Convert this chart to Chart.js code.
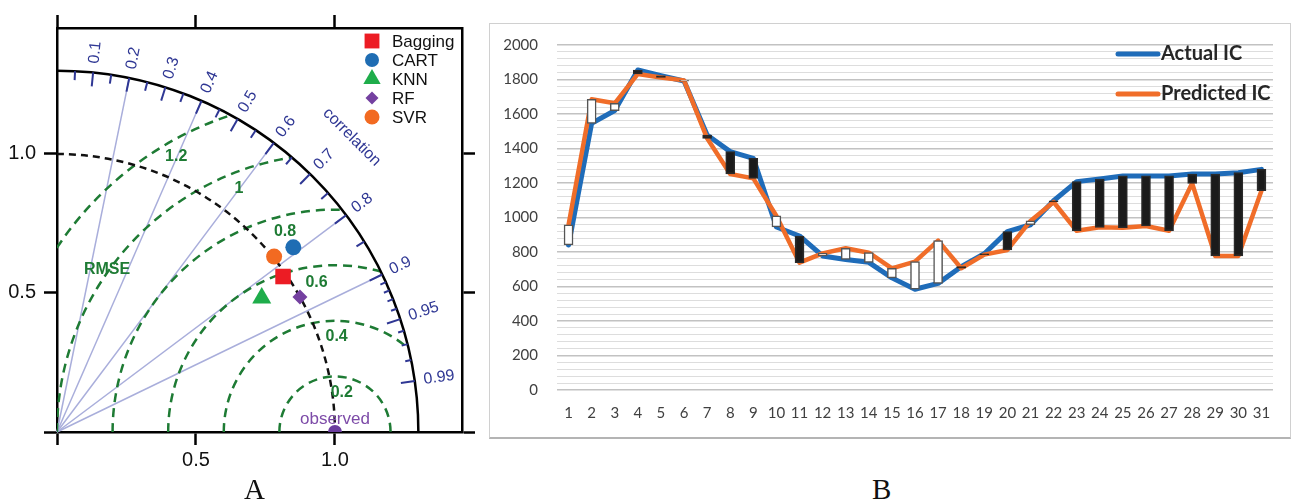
<!DOCTYPE html>
<html>
<head>
<meta charset="utf-8">
<script src="https://cdn.jsdelivr.net/npm/chart.js@4.4.1/dist/chart.umd.min.js"></script>
<style>
  html, body { margin: 0; padding: 0; background: #fff; }
  body { width: 1293px; height: 503px; position: relative; overflow: hidden; }
  #taylor { position: absolute; left: 0; top: 0; }
  #panelB { position: absolute; left: 489px; top: 23px; width: 800px; height: 413px;
            border: 1.5px solid #d0d0d0; border-bottom: 2px solid #b4b4b4; }
  #icChart { position: absolute; left: 490px; top: 22px; }
  .tag { position: absolute; font-family: "Liberation Serif", serif; font-size: 29px;
         line-height: 29px; color: #111; }
</style>
</head>
<body>
<canvas id="taylor" width="480" height="503"></canvas>
<div id="panelB"></div>
<canvas id="icChart" width="803" height="416"></canvas>
<div class="tag" style="left:244px; top:475px;">A</div>
<div class="tag" style="left:872px; top:475px;">B</div>

<script>
// --- Panel A data: Taylor diagram ---
const models = ['Bagging', 'CART', 'KNN', 'RF', 'SVR'];
const modelStd = [0.987, 1.079, 0.880, 1.000, 1.004];
const modelCorr = [0.824, 0.788, 0.837, 0.874, 0.778];
const observedStd = 1.0;
const sdMax = 1.3;
const axisTicks = [0, 0.5, 1.0];
const rmseLevels = [0.2, 0.4, 0.6, 0.8, 1.0, 1.2];
const rmseLabels = ['0.2', '0.4', '0.6', '0.8', '1', '1.2'];
const corrMajor = [0.1, 0.2, 0.3, 0.4, 0.5, 0.6, 0.7, 0.8, 0.9, 0.95, 0.99];
const corrLabels = ['0.1', '0.2', '0.3', '0.4', '0.5', '0.6', '0.7', '0.8', '0.9', '0.95', '0.99'];
const corrMinor = [0.05, 0.15, 0.25, 0.35, 0.45, 0.55, 0.65, 0.75, 0.85];
const corrFine = [0.91, 0.92, 0.93, 0.94, 0.96, 0.97, 0.98];
const corrRays = [0.2, 0.4, 0.6, 0.8, 0.9];

// --- Panel B data: actual vs predicted IC ---
const days = ['1','2','3','4','5','6','7','8','9','10','11','12','13','14','15','16',
              '17','18','19','20','21','22','23','24','25','26','27','28','29','30','31'];
const actualIC = [841, 1546, 1620, 1855, 1822, 1791, 1478, 1382, 1343, 945, 893, 777, 757, 740, 650, 584,
                  618, 715, 790, 918, 958, 1097, 1208, 1223, 1241, 1241, 1241, 1252, 1252, 1260, 1279];
const predictedIC = [957, 1685, 1662, 1832, 1812, 1795, 1459, 1252, 1227, 1009, 738, 792, 822, 796, 705, 744,
                     866, 706, 785, 812, 980, 1090, 923, 943, 941, 951, 923, 1198, 777, 777, 1155];

// styles (kept apart from the data)
const modelStyle = [
  { pointStyle: 'rect',     radius: 11,  color: '#ec1c24' },
  { pointStyle: 'circle',   radius: 8,   color: '#1f6db3' },
  { pointStyle: 'triangle', radius: 11,  color: '#1fad4b' },
  { pointStyle: 'rectRot',  radius: 7.5, color: '#7440a0' },
  { pointStyle: 'circle',   radius: 8,   color: '#f26a21' }
];
const legendRadius = [10.5, 7, 10, 6.5, 7.5];
const rmseLabelAngle = [80, 89, 97, 104, 111.5, 120];
const navy = '#2f3794';
const green = '#1e7b34';

function marker(ctx, style, r, px, py) {
  ctx.fillStyle = style.color;
  if (Chart.helpers && Chart.helpers.drawPoint) {
    Chart.helpers.drawPoint(ctx, { pointStyle: style.pointStyle, radius: r, rotation: 0, borderWidth: 0 }, px, py);
  } else {
    ctx.beginPath(); ctx.arc(px, py, r, 0, Math.PI * 2); ctx.fill();
  }
}

const taylorGrid = {
  id: 'taylorGrid',
  beforeDatasetsDraw(chart) {
    const { ctx, scales: { x, y } } = chart;
    const ox = x.getPixelForValue(0), oy = y.getPixelForValue(0);
    const unit = x.getPixelForValue(1) - ox;
    const R = sdMax * unit;
    const polar = (rad, c) => [ox + rad * c, oy - rad * Math.sqrt(1 - c * c)];
    ctx.save();

    // correlation rays
    ctx.strokeStyle = '#a9aedb';
    ctx.lineWidth = 1.5;
    corrRays.forEach(c => {
      const [px, py] = polar(R, c);
      ctx.beginPath(); ctx.moveTo(ox, oy); ctx.lineTo(px, py); ctx.stroke();
    });

    // RMSE circles around the observed point, kept inside the outer arc
    const cx = x.getPixelForValue(observedStd);
    ctx.save();
    ctx.beginPath(); ctx.moveTo(ox, oy); ctx.arc(ox, oy, R, -Math.PI / 2, 0); ctx.closePath(); ctx.clip();
    ctx.strokeStyle = green; ctx.lineWidth = 2.5; ctx.setLineDash([9, 6]);
    rmseLevels.forEach(r => {
      ctx.beginPath(); ctx.arc(cx, oy, r * unit, Math.PI, 2 * Math.PI); ctx.stroke();
    });
    ctx.restore();

    // reference std arc
    ctx.strokeStyle = '#111'; ctx.lineWidth = 2.5; ctx.setLineDash([7, 5]);
    ctx.beginPath(); ctx.arc(ox, oy, observedStd * unit, -Math.PI / 2, 0); ctx.stroke();
    ctx.setLineDash([]);

    // outer arc
    ctx.strokeStyle = '#000'; ctx.lineWidth = 2.5;
    ctx.beginPath(); ctx.arc(ox, oy, R, -Math.PI / 2, 0); ctx.stroke();

    // correlation ticks
    ctx.strokeStyle = navy; ctx.lineWidth = 2;
    const tick = (c, len) => {
      const [x1, y1] = polar(R, c), [x2, y2] = polar(R - len, c);
      ctx.beginPath(); ctx.moveTo(x1, y1); ctx.lineTo(x2, y2); ctx.stroke();
    };
    corrMajor.forEach(c => tick(c, 14));
    corrMinor.forEach(c => tick(c, 9));
    corrFine.forEach(c => tick(c, 6));

    ctx.fillStyle = navy;
    ctx.font = '16px "Liberation Sans", Arial, sans-serif';
    ctx.textAlign = 'left'; ctx.textBaseline = 'middle';
    corrMajor.forEach((c, i) => {
      const [lx, ly] = polar(R + 9, c);
      ctx.save(); ctx.translate(lx, ly); ctx.rotate(-Math.acos(c));
      ctx.fillText(corrLabels[i], 0, 0); ctx.restore();
    });
    const [tx, ty] = polar(1.5 * unit, Math.SQRT1_2);
    ctx.save(); ctx.translate(tx, ty); ctx.rotate(Math.PI / 4);
    ctx.textAlign = 'center'; ctx.font = '16px "Liberation Sans", Arial, sans-serif';
    ctx.fillText('correlation', 0, 0); ctx.restore();

    // RMSE labels
    ctx.fillStyle = green; ctx.textAlign = 'center';
    ctx.font = 'bold 16px "Liberation Sans", Arial, sans-serif';
    rmseLevels.forEach((r, i) => {
      const a = rmseLabelAngle[i] * Math.PI / 180, d = r * unit - 16;
      ctx.fillText(rmseLabels[i], cx + d * Math.cos(a), oy - d * Math.sin(a));
    });
    ctx.fillText('RMSE', x.getPixelForValue(0.18), y.getPixelForValue(0.583));

    ctx.fillStyle = '#7d4ba8';
    ctx.font = '17px "Liberation Sans", Arial, sans-serif';
    ctx.fillText('observed', cx, oy - 13);
    ctx.restore();
  },
  afterDraw(chart) {
    const { ctx, chartArea } = chart;
    ctx.save();
    ctx.font = '17px "Liberation Sans", Arial, sans-serif';
    ctx.textAlign = 'left'; ctx.textBaseline = 'middle';
    models.forEach((m, i) => {
      const ly = chartArea.top + 13 + i * 19;
      marker(ctx, modelStyle[i], legendRadius[i], chartArea.right - 90, ly);
      ctx.fillStyle = '#111';
      ctx.fillText(m, chartArea.right - 70, ly + 1);
    });
    ctx.restore();
  }
};

function frameAxis(pos, size, showLabels) {
  const horizontal = pos === 'top' || pos === 'bottom';
  return {
    type: 'linear', position: pos, min: 0, max: horizontal ? 1.457 : 1.453,
    afterBuildTicks(scale) { scale.ticks = axisTicks.map(v => ({ value: v })); },
    afterFit(scale) { if (horizontal) scale.height = size; else scale.width = size; },
    grid: { drawOnChartArea: false, drawTicks: true, tickLength: 13, tickWidth: 2.5, tickColor: '#000' },
    border: { display: true, color: '#000', width: 2.5 },
    ticks: {
      display: showLabels, padding: horizontal ? 3 : 8, color: '#111',
      font: { family: '"Liberation Sans", Arial, sans-serif', size: 20 },
      callback: v => (v === 0 ? '' : v.toFixed(1))
    }
  };
}

const modelSets = models.map((m, i) => ({
  label: m,
  data: [{ x: modelStd[i] * modelCorr[i], y: modelStd[i] * Math.sqrt(1 - modelCorr[i] * modelCorr[i]) }],
  pointStyle: modelStyle[i].pointStyle,
  pointRadius: modelStyle[i].radius,
  pointBackgroundColor: modelStyle[i].color,
  pointBorderWidth: 0,
  clip: false
}));
modelSets.push({
  label: 'observed',
  data: [{ x: observedStd, y: 0 }],
  pointStyle: 'circle', pointRadius: 7, pointBackgroundColor: '#6b3d9e', pointBorderWidth: 0,
  clip: 0
});

new Chart(document.getElementById('taylor'), {
  type: 'scatter',
  data: { datasets: modelSets },
  options: {
    responsive: false, animation: false, devicePixelRatio: 1,
    layout: { padding: 0 },
    plugins: { legend: { display: false }, tooltip: { enabled: false } },
    scales: {
      x: frameAxis('bottom', 71, true),
      x2: frameAxis('top', 28, false),
      y: frameAxis('left', 57, true),
      y2: frameAxis('right', 18, false)
    }
  },
  plugins: [taylorGrid]
});

// --- Panel B ---
const blue = '#1f6cb9';
const orange = '#f06d29';
const upDown = actualIC.map((a, i) => [a, predictedIC[i]]);

const icLegend = {
  id: 'icLegend',
  afterDraw(chart) {
    const { ctx, chartArea } = chart;
    const items = [chart.data.datasets[1], chart.data.datasets[2]];
    ctx.save();
    ctx.font = 'bold 20px Lato, "Open Sans", sans-serif';
    ctx.textAlign = 'left'; ctx.textBaseline = 'middle';
    items.forEach((ds, i) => {
      const ly = chartArea.top + 9 + i * 40;
      const lx = chartArea.right - 155;
      ctx.strokeStyle = ds.borderColor; ctx.lineWidth = 5; ctx.lineCap = 'round';
      ctx.beginPath(); ctx.moveTo(lx, ly); ctx.lineTo(lx + 40, ly); ctx.stroke();
      ctx.fillStyle = '#262626';
      ctx.fillText(ds.label, lx + 43, ly);
    });
    ctx.restore();
  }
};

new Chart(document.getElementById('icChart'), {
  type: 'bar',
  data: {
    labels: days,
    datasets: [
      {
        type: 'bar', label: 'up/down', data: upDown, order: 0,
        backgroundColor: upDown.map(d => (d[1] > d[0] ? '#ffffff' : '#1b1b1b')),
        borderColor: upDown.map(d => (d[1] > d[0] ? '#555555' : '#2a2a2a')),
        borderWidth: 1.5, borderSkipped: false, barThickness: 9
      },
      {
        type: 'line', label: 'Actual IC', data: actualIC, order: 2,
        borderColor: blue, borderWidth: 5, pointRadius: 0, tension: 0,
        borderJoinStyle: 'round', borderCapStyle: 'round'
      },
      {
        type: 'line', label: 'Predicted IC', data: predictedIC, order: 1,
        borderColor: orange, borderWidth: 4.5, pointRadius: 0, tension: 0,
        borderJoinStyle: 'round', borderCapStyle: 'round'
      }
    ]
  },
  options: {
    responsive: false, animation: false, devicePixelRatio: 1,
    layout: { padding: { top: 23, right: 20 } },
    plugins: { legend: { display: false }, tooltip: { enabled: false } },
    scales: {
      x: {
        afterFit(scale) { scale.height = 48; },
        grid: { display: false, drawTicks: false },
        border: { display: false },
        ticks: {
          padding: 14, color: '#404040', autoSkip: false, maxRotation: 0, minRotation: 0,
          font: { family: 'Lato, "Open Sans", sans-serif', size: 15 }
        }
      },
      y: {
        min: 0, max: 2000,
        afterFit(scale) { scale.width = 67; },
        grid: {
          drawTicks: true, tickLength: 19, tickColor: 'rgba(0,0,0,0)',
          color: c => (c.tick.value % 200 === 0 ? '#c2c2c2' : '#dddddd'),
          lineWidth: c => (c.tick.value % 200 === 0 ? 1.5 : 1)
        },
        border: { display: false },
        ticks: {
          stepSize: 40, autoSkip: false, padding: 0, color: '#404040',
          font: { family: 'Lato, "Open Sans", sans-serif', size: 15 },
          callback: v => (v % 200 === 0 ? String(v) : '')
        }
      }
    }
  },
  plugins: [icLegend]
});
</script>
</body>
</html>
